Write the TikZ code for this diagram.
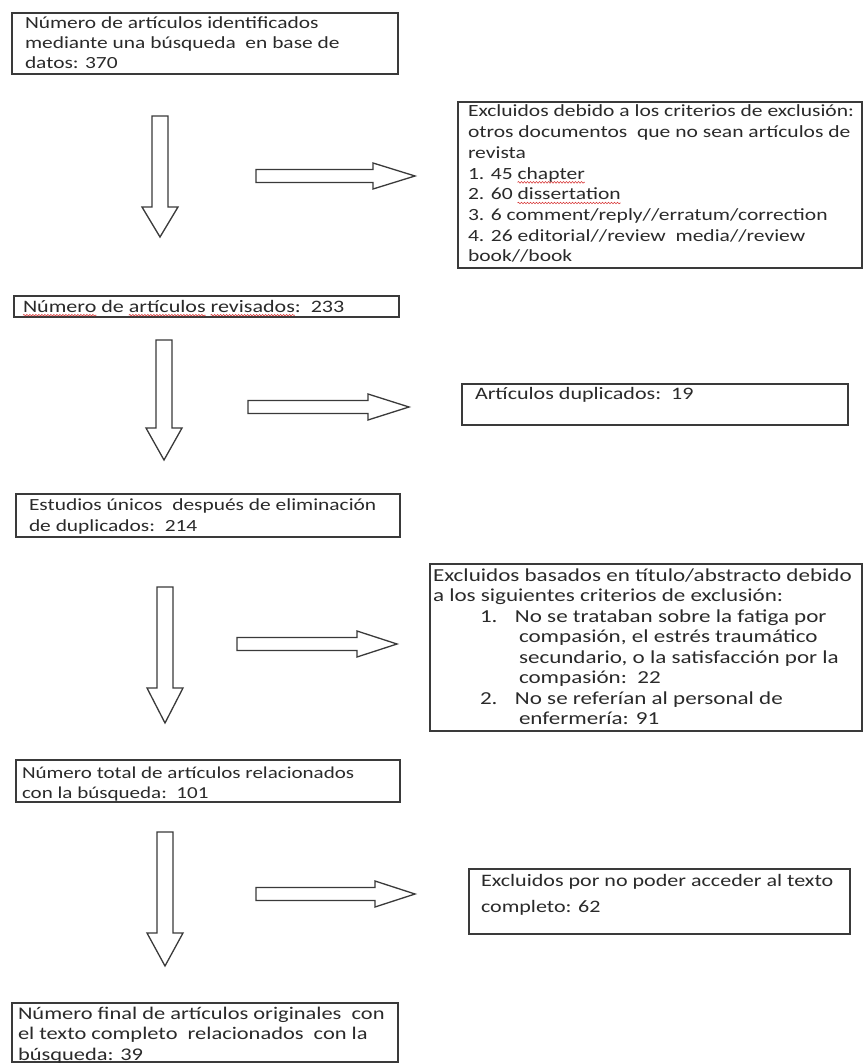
\documentclass[tikz,border=0pt]{standalone}
\usepackage{fontspec}
\setmainfont{Carlito}[FakeStretch=1.26]
\usetikzlibrary{decorations.pathmorphing}
\definecolor{linegray}{HTML}{3A3A3A}
\definecolor{textgray}{HTML}{2A2A2A}
\definecolor{wavered}{HTML}{D83A3A}
\newsavebox\sqbox
\newcommand\squig[1]{\sbox\sqbox{#1}\rlap{\tikz[overlay,baseline=0pt]\draw[wavered, line width=0.6pt, decorate, decoration={snake, amplitude=0.8pt, segment length=3pt}] (0pt,-3.2pt) -- (\wd\sqbox,-3.2pt);}\usebox\sqbox}
\newcommand\boxlines[2]{\vtop{\baselineskip=#1\lineskip=0pt\lineskiplimit=-100pt\halign{##\hfil\cr#2\crcr}}}
\newcommand\itemline[2]{\hskip47pt\hbox to 35pt{#1\hfil}#2}
\newcommand\contline[1]{\hskip86pt #1}
\newcommand\fs[1]{\fontsize{#1}{20}\selectfont}
\tikzset{
  box/.style={draw=linegray, line width=1.2pt, inner sep=0pt, outer sep=0pt, anchor=north west},
  txt/.style={inner sep=0pt, outer sep=0pt, anchor=base west, text=textgray, font=\fs{17.5}},
  blk/.style={draw=linegray, line width=1.3pt, fill=white, line join=miter},
  pics/downarr/.style n args={2}{code={
    \draw[blk] (-8,0) -- (8,0) -- (8,{#1-#2}) -- (18,{#1-#2}) -- (0,#1) -- (-18,{#1-#2}) -- (-8,{#1-#2}) -- cycle;}},
  pics/rightarr/.style n args={2}{code={
    \draw[blk] (0,-6.5) -- ({#1-#2},-6.5) -- ({#1-#2},-13) -- (#1,0) -- ({#1-#2},13) -- ({#1-#2},6.5) -- (0,6.5) -- cycle;}}
}
\begin{document}
\begin{tikzpicture}[x=1pt,y=-1pt]
\fill[white] (0,0) rectangle (864,1064);
\useasboundingbox (0,0) rectangle (864,1064);

% boxes
\node[box, minimum width=386pt, minimum height=61pt] (b1) at (12,13) {};
\node[box, minimum width=404pt, minimum height=166pt] (b2) at (458,102) {};
\node[box, minimum width=385pt, minimum height=21pt] (b3) at (14,296) {};
\node[box, minimum width=386pt, minimum height=41pt] (b4) at (462,384) {};
\node[box, minimum width=384pt, minimum height=43pt] (b5) at (16,494) {};
\node[box, minimum width=432pt, minimum height=167pt] (b6) at (430,564) {};
\node[box, minimum width=384pt, minimum height=42pt] (b7) at (16,760) {};
\node[box, minimum width=381pt, minimum height=65pt] (b8) at (469,869) {};
\node[box, minimum width=386pt, minimum height=59pt] (b9) at (12,1003) {};

% texts
\node[txt, font=\fs{17.0}] (t1) at (25,29) {\boxlines{20pt}{Número de artículos identificados\cr
mediante una búsqueda\ \ en base de\cr
datos: 370}};
\node[txt, font=\fs{17.1}] (t2) at (468,117) {\boxlines{20.7pt}{Excluidos debido a los criterios de exclusión:\cr
otros documentos\ \ que no sean artículos de\cr
revista\cr
1. 45 \squig{chapter}\cr
2. 60 \squig{dissertation}\cr
3. 6 comment/reply//erratum/correction\cr
4. 26 editorial//review\ \ media//review\cr
book//book}};
\node[txt] (t3) at (23,312) {\squig{Número} de \squig{artículos} \squig{revisados}:\ \ 233};
\node[txt] (t4) at (475,399) {Artículos duplicados:\ \ 19};
\node[txt, font=\fs{17.0}] (t5) at (29,510) {\boxlines{21pt}{Estudios únicos\ \ después de eliminación\cr
de duplicados:\ \ 214}};
\node[txt, font=\fs{18.3}] (t6) at (433,581) {\boxlines{20.5pt}{Excluidos basados en título/abstracto debido\cr
a los siguientes criterios de exclusión:\cr
\itemline{1.}{No se trataban sobre la fatiga por}\cr
\contline{compasión, el estrés traumático}\cr
\contline{secundario, o la satisfacción por la}\cr
\contline{compasión:\ \ 22}\cr
\itemline{2.}{No se referían al personal de}\cr
\contline{enfermería: 91}}};
\node[txt, font=\fs{16.7}] (t7) at (22,778) {\boxlines{20pt}{Número total de artículos relacionados\cr
con la búsqueda:\ \ 101}};
\node[txt] (t8) at (481,886) {\boxlines{26pt}{Excluidos por no poder acceder al texto\cr
completo: 62}};
\node[txt, font=\fs{17.8}] (t9) at (18,1019) {\boxlines{20.5pt}{Número final de artículos originales\ \ con\cr
el texto completo\ \ relacionados\ \ con la\cr
búsqueda: 39}};

% block arrows
\pic (d1) at (160,116) {downarr={121}{30}};
\pic (d2) at (164,340) {downarr={120}{32}};
\pic (d3) at (165,587) {downarr={136}{35}};
\pic (d4) at (165,832) {downarr={134}{33}};
\pic (r1) at (256,176) {rightarr={159}{42}};
\pic (r2) at (248,407) {rightarr={161}{41}};
\pic (r3) at (237,644) {rightarr={160}{40}};
\pic (r4) at (256,894) {rightarr={159}{40}};
\end{tikzpicture}
\end{document}
